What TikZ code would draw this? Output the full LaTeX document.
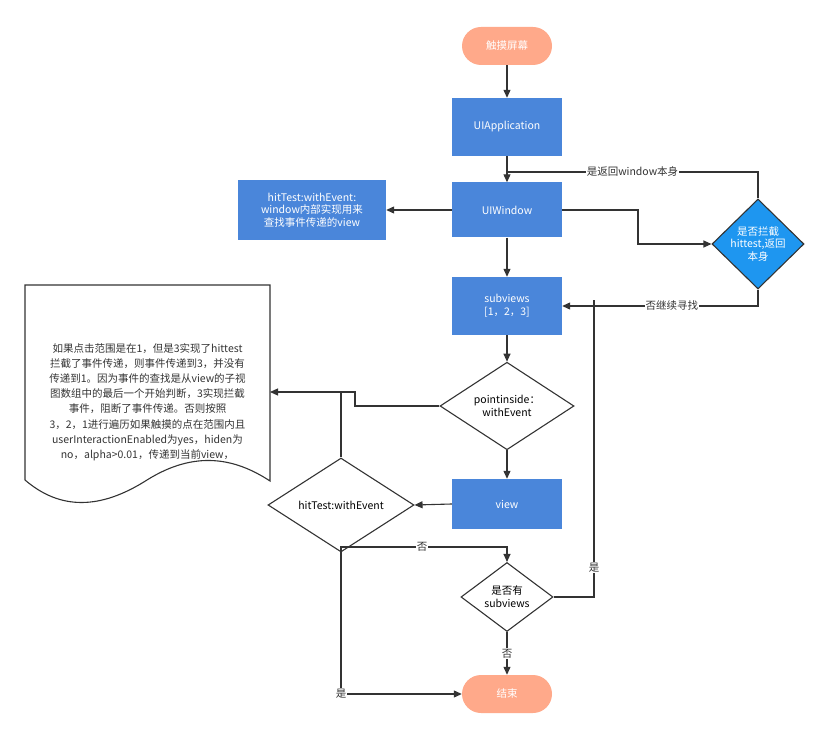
\documentclass[tikz,border=0pt]{standalone}
\usepackage{fontspec}
\setmainfont{Noto Sans CJK SC}
\usetikzlibrary{shapes.geometric,arrows.meta}
\begin{document}
\begin{tikzpicture}[x=1pt,y=-1pt,font=\fontsize{10.5}{13}\selectfont,
  blue/.style={draw=none,fill=bbl,text=white,minimum width=110pt,minimum height=56pt,align=center},
  pill/.style={rounded corners=19pt,fill=sal,text=white,minimum width=90pt,minimum height=38pt},
  ln/.style={draw=dk,line width=1.1pt},
  ar/.style={ln,-{Triangle[length=8pt,width=7pt]}},
  lab/.style={fill=white,inner sep=1pt,text=dk}]
\definecolor{bbl}{HTML}{4A86DA}\definecolor{sal}{HTML}{FFA98A}\definecolor{dk}{HTML}{333333}\definecolor{dbl}{HTML}{1E96F0}
\useasboundingbox (0,0) rectangle (828,738);
\node[pill] (start) at (507,46) {触摸屏幕};
\node[blue,minimum height=58pt] (app) at (507,127) {UIApplication};
\node[blue,minimum height=55pt] (win) at (507,210) {UIWindow};
\node[blue,minimum width=148pt,minimum height=60pt,inner sep=2pt,font=\fontsize{10.5}{12.5}\selectfont] (hit) at (312,210) {hitTest:withEvent:\\window内部实现用来\\查找事件传递的view};
\node[diamond,draw=dk,line width=1.1pt,fill=dbl,text=white,minimum width=92pt,minimum height=87pt,inner sep=0pt,align=center,font=\fontsize{10.5}{12.5}\selectfont] (intc) at (758,244) {是否拦截\\hittest,返回\\本身};
\node[blue,minimum height=58pt] (sub) at (507,306) {subviews\\{[}1，2，3{]}};
\node[diamond,draw=dk,line width=1.1pt,minimum width=134pt,minimum height=72pt,inner sep=0pt,align=center] (pin) at (507,406) {pointinside：\\withEvent};
\node[blue,minimum height=50pt] (view) at (507,504) {view};
\node[diamond,draw=dk,line width=1.1pt,minimum width=146pt,minimum height=56pt,inner sep=0pt] (ht) at (341,505) {hitTest:withEvent};
\node[diamond,draw=dk,line width=1.1pt,minimum width=92pt,minimum height=69pt,inner sep=0pt,align=center] (hs) at (507,597) {是否有\\subviews};
\node[pill] (end) at (507,694) {结束};
% document
\draw[ln] (25,480) -- (25,285) -- (270,285) -- (270,481) .. controls (235,458) and (195,450) .. (147,480) .. controls (100,510) and (60,510) .. (25,480);
\node[text=dk,align=center,font=\fontsize{10.5}{15.2}\selectfont] (doc) at (147.5,402) {如果点击范围是在1，但是3实现了hittest\\拦截了事件传递，则事件传递到3，并没有\\传递到1。因为事件的查找是从view的子视\\图数组中的最后一个开始判断，3实现拦截\\事件，阻断了事件传递。否则按照\\3，2，1进行遍历如果触摸的点在范围内且\\userInteractionEnabled为yes，hiden为\\no，alpha>0.01，传递到当前view，};
\coordinate (docr) at (270,392);
% connectors
\draw[ar] (start) -- (app);
\draw[ar] (app) -- (win);
\draw[ln] (intc.north) |- (507,172) node[lab,pos=0.75] {是返回window本身};
\draw[ar] (win.west) -- (hit.east);
\draw[ar] (win.east) -- (638,210) |- (intc.west);
\draw[ar] (win) -- (sub);
\draw[ar] (intc.south) |- (sub.east) node[lab,pos=0.72] {否继续寻找};
\draw[ar] (sub) -- (pin);
\draw[ar] (pin.west) -- (355,406) |- (docr);
\draw[ar] (pin) -- (view);
\draw[ar] (view.west) -- (ht.east);
\draw[ln] (ht.north) -- (341,392);
\draw[ar] (ht.south) -- (341,547) -| (hs.north);
\node[lab] at (422,547) {否};
\draw[ar] (ht.south) |- (end.west) node[lab,pos=0.5] {是};
\draw[ln] (hs.east) -| (594,300) node[lab,pos=0.55] {是};
\draw[ar] (hs) -- (end) node[lab,midway] {否};
\end{tikzpicture}
\end{document}
